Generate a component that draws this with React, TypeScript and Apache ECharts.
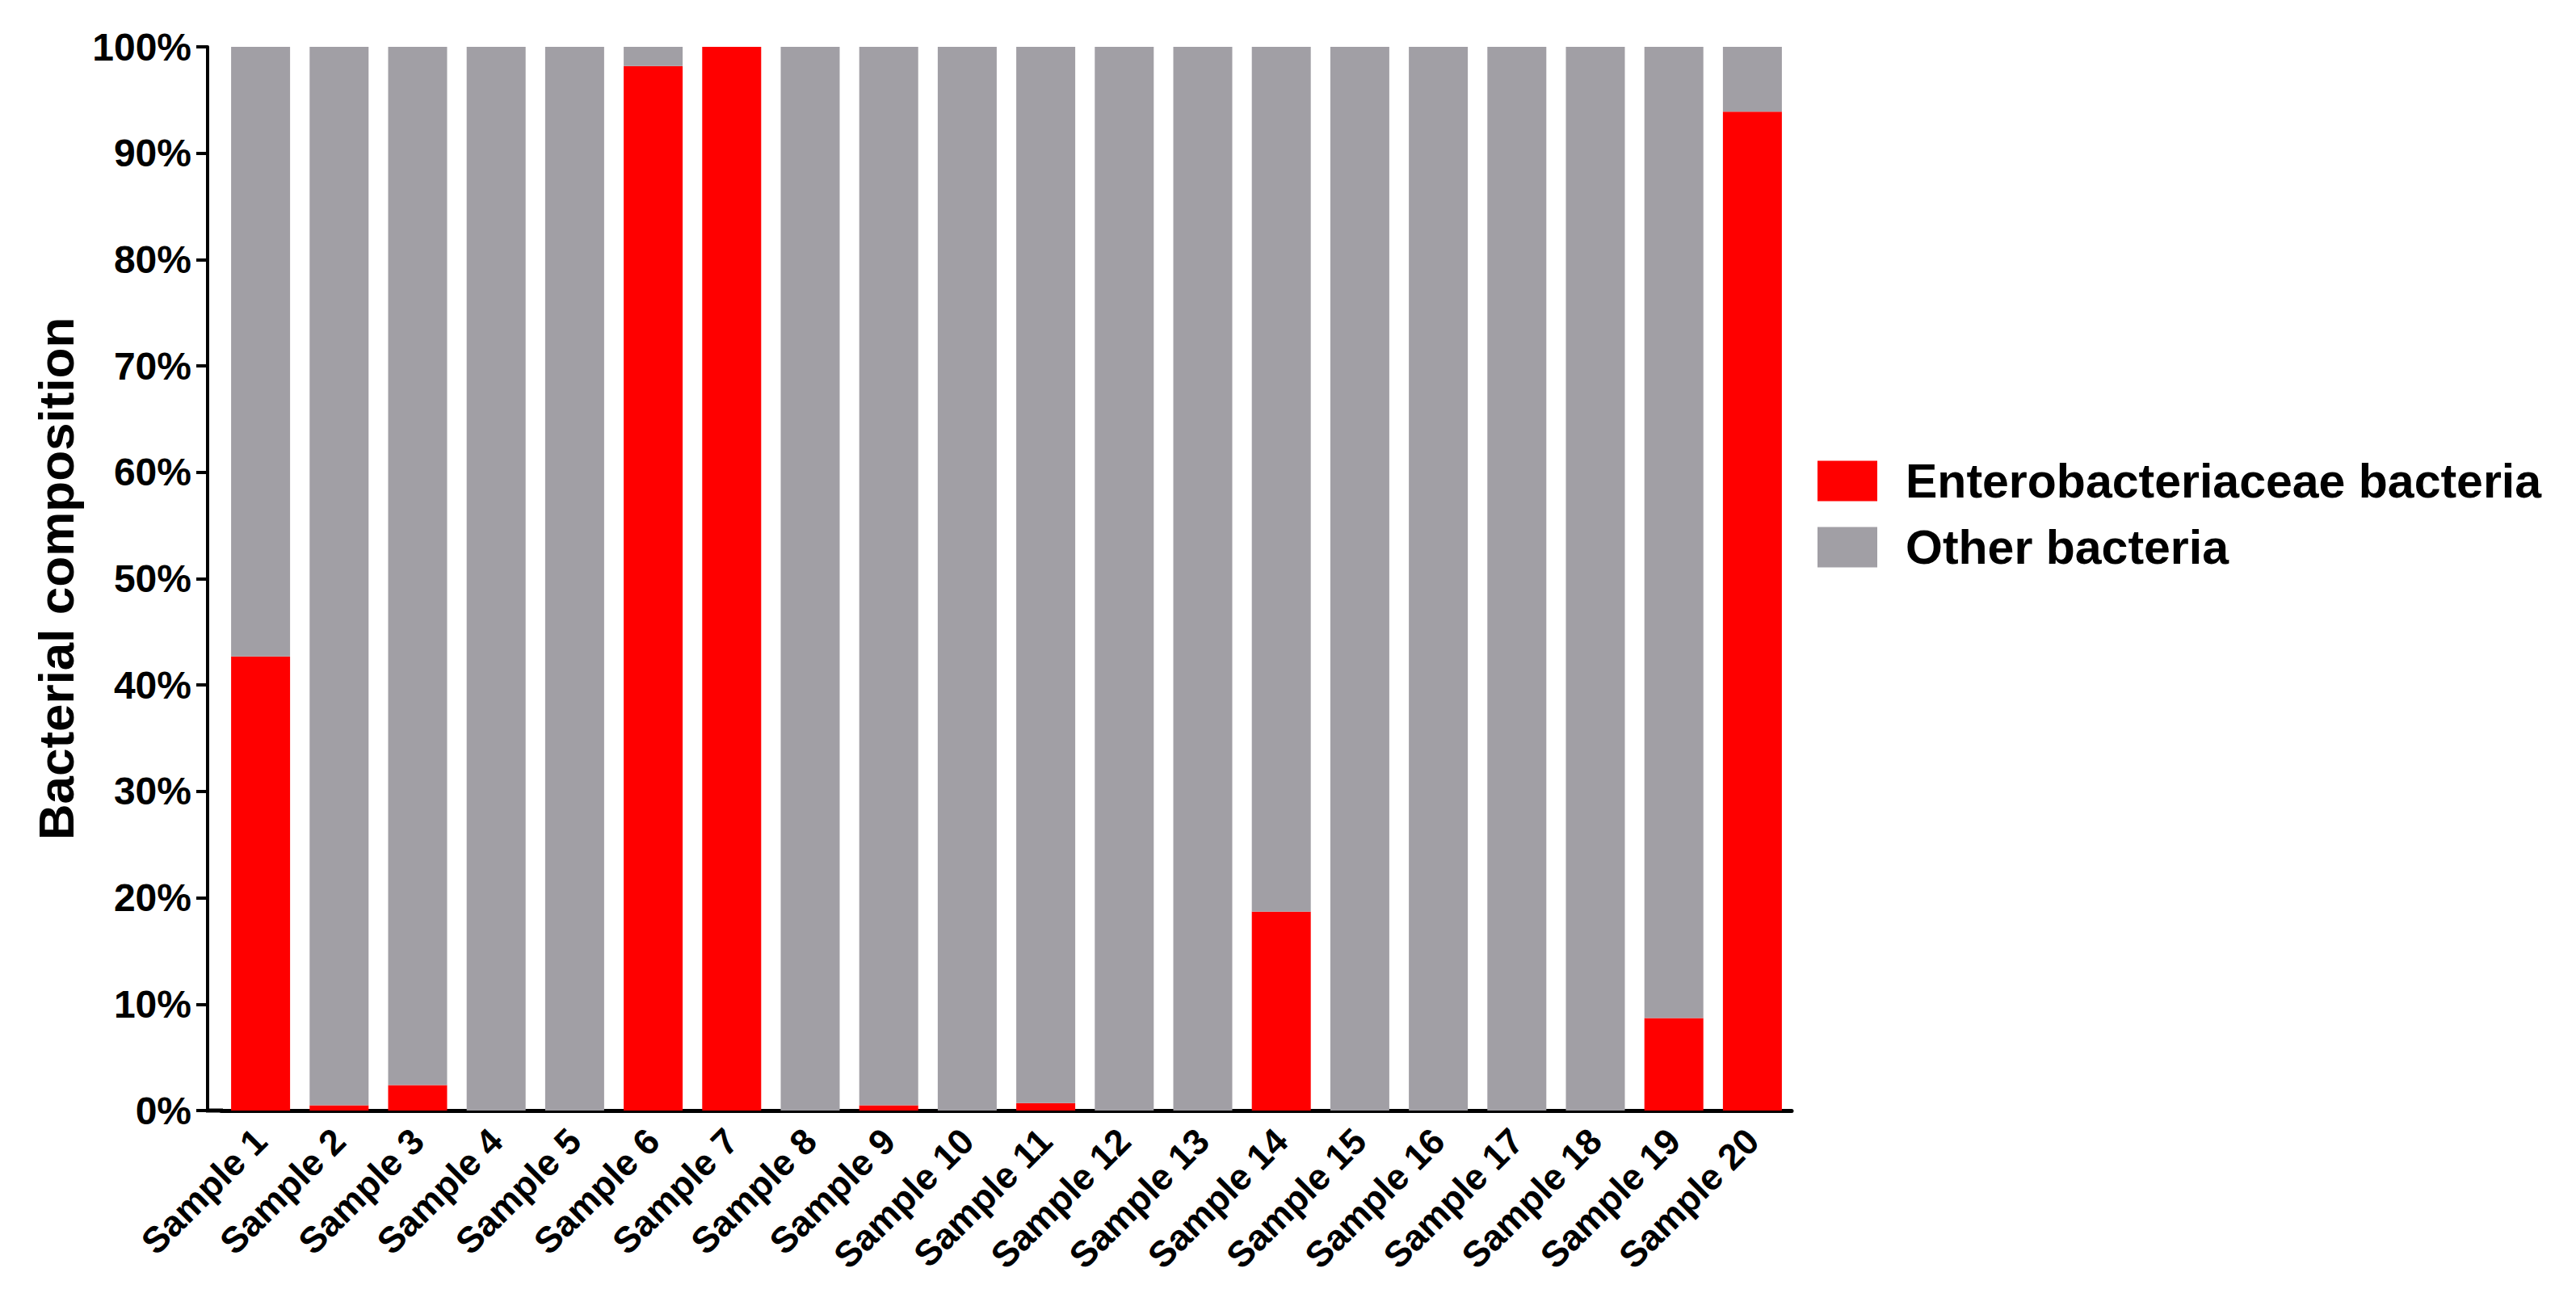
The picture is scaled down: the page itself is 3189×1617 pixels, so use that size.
import React, { useEffect, useRef } from "react";
import * as echarts from "echarts";

const categories = Array.from({ length: 20 }, (_, i) => `Sample ${i + 1}`);
const enterobacteriaceae = [42.7, 0.5, 2.4, 0, 0, 98.2, 100, 0, 0.5, 0, 0.7, 0, 0, 18.7, 0, 0, 0, 0, 8.7, 93.9];
const otherBacteria = [57.3, 99.5, 97.6, 100, 100, 1.8, 0, 100, 99.5, 100, 99.3, 100, 100, 81.3, 100, 100, 100, 100, 91.3, 6.1];
const seriesNames = ["Enterobacteriaceae bacteria", "Other bacteria"];
const yTicks = { min: 0, max: 100, interval: 10 };

const FONT = "Arial, 'Liberation Sans', Helvetica, sans-serif";

export default function App() {
  const ref = useRef<HTMLDivElement>(null);
  useEffect(() => {
    if (!ref.current) return;
    const chart = echarts.init(ref.current, null, { renderer: "svg" });
    chart.setOption({
      animation: false,
      backgroundColor: "#ffffff",
      textStyle: { fontFamily: FONT },
      grid: { left: 274, right: 971, top: 58, bottom: 242, containLabel: false },
      legend: {
        orient: "vertical",
        left: 2245,
        top: 561,
        itemWidth: 74,
        itemHeight: 50,
        itemGap: 23,
        icon: "rect",
        data: seriesNames,
        textStyle: { fontSize: 59, fontWeight: "bold", color: "#000", fontFamily: FONT, padding: [0, 0, 0, 30] },
      },
      xAxis: {
        type: "category",
        data: categories,
        axisLine: { lineStyle: { color: "#000", width: 5 } },
        axisTick: { alignWithLabel: true, length: 18, lineStyle: { color: "#000", width: 4 } },
        axisLabel: { rotate: 45, fontSize: 45, fontWeight: "bold", color: "#000", margin: 30, interval: 0, fontFamily: FONT },
      },
      yAxis: {
        type: "value",
        min: yTicks.min,
        max: yTicks.max,
        interval: yTicks.interval,
        offset: 17,
        name: "Bacterial composition",
        nameLocation: "middle",
        nameGap: 157,
        nameTextStyle: { fontSize: 62, fontWeight: "bold", color: "#000", fontFamily: FONT },
        axisLine: { show: true, lineStyle: { color: "#000", width: 4 } },
        axisTick: { show: true, length: 14, lineStyle: { color: "#000", width: 4 } },
        axisLabel: { formatter: "{value}%", fontSize: 48, fontWeight: "bold", color: "#000", margin: 20, fontFamily: FONT },
        splitLine: { show: false },
      },
      graphic: [
        { type: "line", shape: { x1: 255, y1: 1375, x2: 276, y2: 1375 }, style: { stroke: "#000", lineWidth: 5 }, z: 10 },
      ],
      series: [
        {
          name: seriesNames[0],
          type: "bar",
          stack: "total",
          data: enterobacteriaceae,
          barWidth: 73,
          itemStyle: { color: "#FF0000" },
        },
        {
          name: seriesNames[1],
          type: "bar",
          stack: "total",
          data: otherBacteria,
          barWidth: 73,
          itemStyle: { color: "#A19FA5" },
        },
      ],
    });
    return () => chart.dispose();
  }, []);
  return <div ref={ref} style={{ position: "fixed", left: 0, top: 0, width: 3189, height: 1617 }} />;
}
